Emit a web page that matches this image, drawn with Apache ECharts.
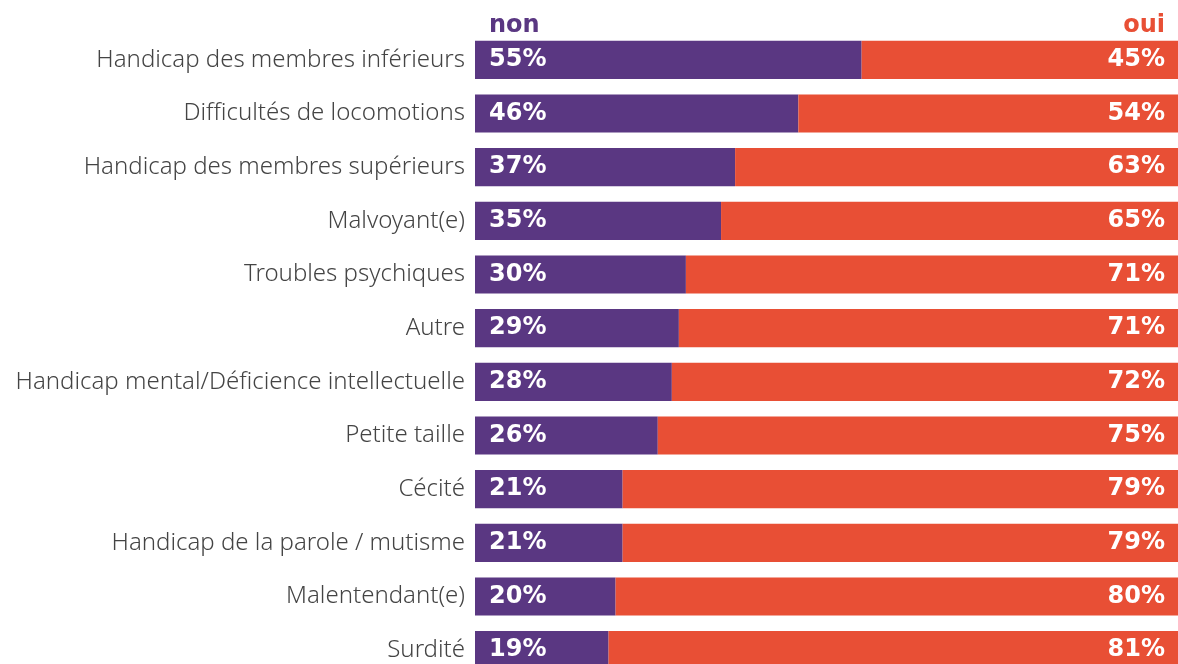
<!DOCTYPE html>
<html>
<head>
<meta charset="utf-8">
<script src="https://cdn.jsdelivr.net/npm/echarts@6/dist/echarts.min.js"></script>
<style>
  html, body { margin: 0; padding: 0; background: #fff; }
  #chart { width: 1178px; height: 664px; }
</style>
</head>
<body>
<div id="chart"></div>
<script>
const categories = [
  'Handicap des membres inférieurs',
  'Difficultés de locomotions',
  'Handicap des membres supérieurs',
  'Malvoyant(e)',
  'Troubles psychiques',
  'Autre',
  'Handicap mental/Déficience intellectuelle',
  'Petite taille',
  'Cécité',
  'Handicap de la parole / mutisme',
  'Malentendant(e)',
  'Surdité'
]
const nonValues = [55, 46, 37, 35, 30, 29, 28, 26, 21, 21, 20, 19]
const ouiValues = [45, 54, 63, 65, 71, 71, 72, 75, 79, 79, 80, 81]

const purple = '#5a3782'
const red = '#e84f35'
const labelFont = {
  color: '#fff',
  fontFamily: 'DejaVu Sans',
  fontWeight: 'bold',
  fontSize: 24
}

const chart = echarts.init(document.getElementById('chart'))
chart.setOption({
  animation: false,
  grid: {
    left: 475,
    right: 0,
    top: 33,
    bottom: -13,
    outerBoundsMode: 'none'
  },
  graphic: [
    {
      type: 'text', left: 489, top: 14,
      style: { text: 'non', fill: purple, font: 'bold 24px "DejaVu Sans"' }
    },
    {
      type: 'text', right: 13, top: 14,
      style: { text: 'oui', fill: red, font: 'bold 24px "DejaVu Sans"' }
    }
  ],
  xAxis: {
    type: 'value',
    min: 0,
    max: 100,
    show: false
  },
  yAxis: {
    type: 'category',
    inverse: true,
    data: categories,
    axisLine: { show: false },
    axisTick: { show: false },
    axisLabel: {
      margin: 10,
      color: '#444',
      fontFamily: 'Noto Sans',
      fontWeight: 300,
      fontSize: 24
    }
  },
  series: [
    {
      name: 'non',
      type: 'bar',
      stack: 'total',
      barCategoryGap: '29%',
      itemStyle: { color: purple },
      label: {
        show: true,
        position: 'insideLeft',
        distance: 14,
        formatter: '{c}%',
        ...labelFont
      },
      data: nonValues
    },
    {
      name: 'oui',
      type: 'bar',
      stack: 'total',
      itemStyle: { color: red },
      label: {
        show: true,
        position: 'insideRight',
        distance: 13,
        formatter: '{c}%',
        ...labelFont
      },
      data: ouiValues
    }
  ]
})
</script>
</body>
</html>
